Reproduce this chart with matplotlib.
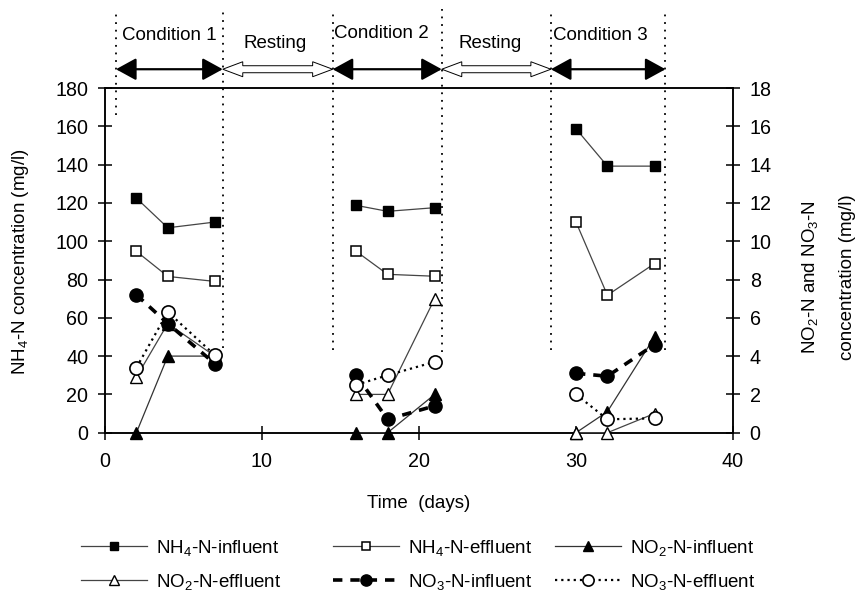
import matplotlib
matplotlib.use('Agg')
import matplotlib.pyplot as plt
from matplotlib.patches import Polygon
from matplotlib.lines import Line2D

plt.rcParams['font.family'] = ['Liberation Sans', 'DejaVu Sans']
plt.rcParams['mathtext.fontset'] = 'custom'
plt.rcParams['mathtext.rm'] = 'Liberation Sans'
plt.rcParams['mathtext.it'] = 'Liberation Sans:italic'
plt.rcParams['mathtext.bf'] = 'Liberation Sans:bold'

# ---------------- data ----------------
days = [2, 4, 7, 16, 18, 21, 30, 32, 35]
condition = [0, 0, 0, 1, 1, 1, 2, 2, 2]

nh4_influent = [122.5, 107, 110, 118.7, 115.6, 117.5, 158.7, 139.2, 139.2]   # left axis
nh4_effluent = [94.7, 81.6, 79, 94.7, 82.7, 81.7, 110, 71.8, 88.3]           # left axis
no2_influent = [0, 4.0, 4.0, 0, 0, 2.0, 0, 1.1, 5.0]                          # right axis
no2_effluent = [2.9, 5.7, 4.0, 2.0, 2.0, 7.0, 0, 0, 1.0]                      # right axis
no3_influent = [7.2, 5.7, 3.6, 3.0, 0.7, 1.4, 3.1, 2.95, 4.6]                 # right axis
no3_effluent = [3.4, 6.3, 4.05, 2.5, 3.0, 3.7, 2.0, 0.7, 0.75]                # right axis

x_ticks = [0, 10, 20, 30, 40]
left_ticks = [0, 20, 40, 60, 80, 100, 120, 140, 160, 180]
right_ticks = [0, 2, 4, 6, 8, 10, 12, 14, 16, 18]

phase_bounds = [0.7, 7.5, 14.5, 21.45, 28.4, 35.7]
phase_line_bottom = [166, 44, 43, 42, 43, 43]
phase_labels = ['Condition 1', 'Resting', 'Condition 2', 'Resting', 'Condition 3']

# ---------------- figure ----------------
W, H = 859, 593
fig = plt.figure(figsize=(W / 100, H / 100), dpi=100)
ax = fig.add_axes([105 / W, 1 - 432.7 / H, (733 - 105) / W, (432.7 - 88) / H])
ax2 = ax.twinx()

FS = 13.5
TFS = 14.2
ax.set_xlim(0, 40)
ax.set_ylim(0, 180)
ax2.set_ylim(0, 18)
ax.set_xticks(x_ticks)
ax.set_yticks(left_ticks)
ax2.set_yticks(right_ticks)

for a in (ax, ax2):
    for s in a.spines.values():
        s.set_linewidth(1.1)
ax.tick_params(axis='x', direction='inout', length=10, width=1.1, pad=9, labelsize=TFS, top=False)
ax.tick_params(axis='y', direction='inout', length=10, width=1.1, pad=7, labelsize=TFS, right=False)
ax2.tick_params(axis='y', direction='inout', length=10, width=1.1, pad=7, labelsize=TFS)

series = [
    (ax, nh4_influent, dict(color='#444444', lw=0.9, ls='-', marker='s', ms=7.5,
                            mfc='black', mec='black'), r'NH$_4$-N-influent'),
    (ax, nh4_effluent, dict(color='#444444', lw=0.9, ls='-', marker='s', ms=7.5,
                            mfc='white', mec='black', mew=1.1), r'NH$_4$-N-effluent'),
    (ax2, no2_influent, dict(color='#333333', lw=0.9, ls='-', marker='^', ms=8,
                             mfc='black', mec='black'), r'NO$_2$-N-influent'),
    (ax2, no2_effluent, dict(color='#444444', lw=0.9, ls='-', marker='^', ms=8,
                             mfc='white', mec='black', mew=1.0), r'NO$_2$-N-effluent'),
    (ax2, no3_influent, dict(color='black', lw=2.6, ls=(0, (2.6, 2.2)), marker='o', ms=9.5,
                             mfc='black', mec='black'), r'NO$_3$-N-influent'),
    (ax2, no3_effluent, dict(color='black', lw=1.6, ls=(0, (1, 1.8)), marker='o', ms=9.5,
                             mfc='white', mec='black', mew=1.2), r'NO$_3$-N-effluent'),
]

handles = {}
for a, vals, style, label in series:
    for c in sorted(set(condition)):
        xs = [d for d, k in zip(days, condition) if k == c]
        ys = [v for v, k in zip(vals, condition) if k == c]
        a.plot(xs, ys, clip_on=False, zorder=3, **style)
    leg_style = dict(style)
    leg_style['ms'] = style['ms'] * 0.85
    handles[label] = Line2D([], [], **leg_style)

# ---------------- phase markers ----------------
top_y = 221  # data units above the axes top
for xb, yb in zip(phase_bounds, phase_line_bottom):
    ax.plot([xb, xb], [yb, top_y], color='black', lw=1.3, ls=(0, (1, 3.2)),
            clip_on=False, zorder=1)

arrow_y = 189.8
fig.canvas.draw()


def hollow_darrow(a, x0, x1, y, hl=20, hh=7.5, sh=3.5):
    (px0, py), (px1, _) = a.transData.transform([(x0, y), (x1, y)])
    pts = [(px0, py), (px0 + hl, py + hh), (px0 + hl, py + sh), (px1 - hl, py + sh),
           (px1 - hl, py + hh), (px1, py), (px1 - hl, py - hh), (px1 - hl, py - sh),
           (px0 + hl, py - sh), (px0 + hl, py - hh)]
    data_pts = a.transData.inverted().transform(pts)
    a.add_patch(Polygon(data_pts, closed=True, fc='white', ec='black', lw=0.7,
                        clip_on=False, zorder=4))


for i in range(len(phase_bounds) - 1):
    x0, x1 = phase_bounds[i], phase_bounds[i + 1]
    if phase_labels[i].startswith('Condition'):
        ax.annotate('', xy=(x1, arrow_y), xytext=(x0, arrow_y), annotation_clip=False,
                    arrowprops=dict(arrowstyle='<|-|>,head_length=0.62,head_width=0.34',
                                    mutation_scale=20, lw=1.6, color='black',
                                    shrinkA=0, shrinkB=0))
    else:
        hollow_darrow(ax, x0, x1, arrow_y)

label_pos = [(169, 35), (275, 44), (381, 34), (490, 44), (600, 35)]
for (px, py), txt in zip(label_pos, phase_labels):
    fig.text(px / W, 1 - py / H, txt, ha='center', va='center', fontsize=FS)

# ---------------- axis labels ----------------
fig.text(21 / W, 1 - 262 / H, r'NH$_4$-N concentration (mg/l)', rotation=90,
         ha='center', va='center', fontsize=FS)
fig.text(810 / W, 1 - 277 / H, r'NO$_2$-N and NO$_3$-N', rotation=90,
         ha='center', va='center', fontsize=FS)
fig.text(847 / W, 1 - 277 / H, 'concentration (mg/l)', rotation=90,
         ha='center', va='center', fontsize=FS)
fig.text(419 / W, 1 - 503 / H, 'Time  (days)', ha='center', va='center', fontsize=FS)

# ---------------- legend ----------------
legend_cols = [
    [r'NH$_4$-N-influent', r'NO$_2$-N-effluent'],
    [r'NH$_4$-N-effluent', r'NO$_3$-N-influent'],
    [r'NO$_2$-N-influent', r'NO$_3$-N-effluent'],
]
col_x = [81, 333, 555]
for cx, labels in zip(col_x, legend_cols):
    fig.legend([handles[l] for l in labels], labels, loc='center left',
               bbox_to_anchor=(cx / W, 1 - 565 / H), frameon=False, fontsize=FS,
               handlelength=3.5, handletextpad=0.5, labelspacing=0.75,
               borderpad=0, borderaxespad=0, numpoints=1)

fig.savefig('out.png', dpi=100)
